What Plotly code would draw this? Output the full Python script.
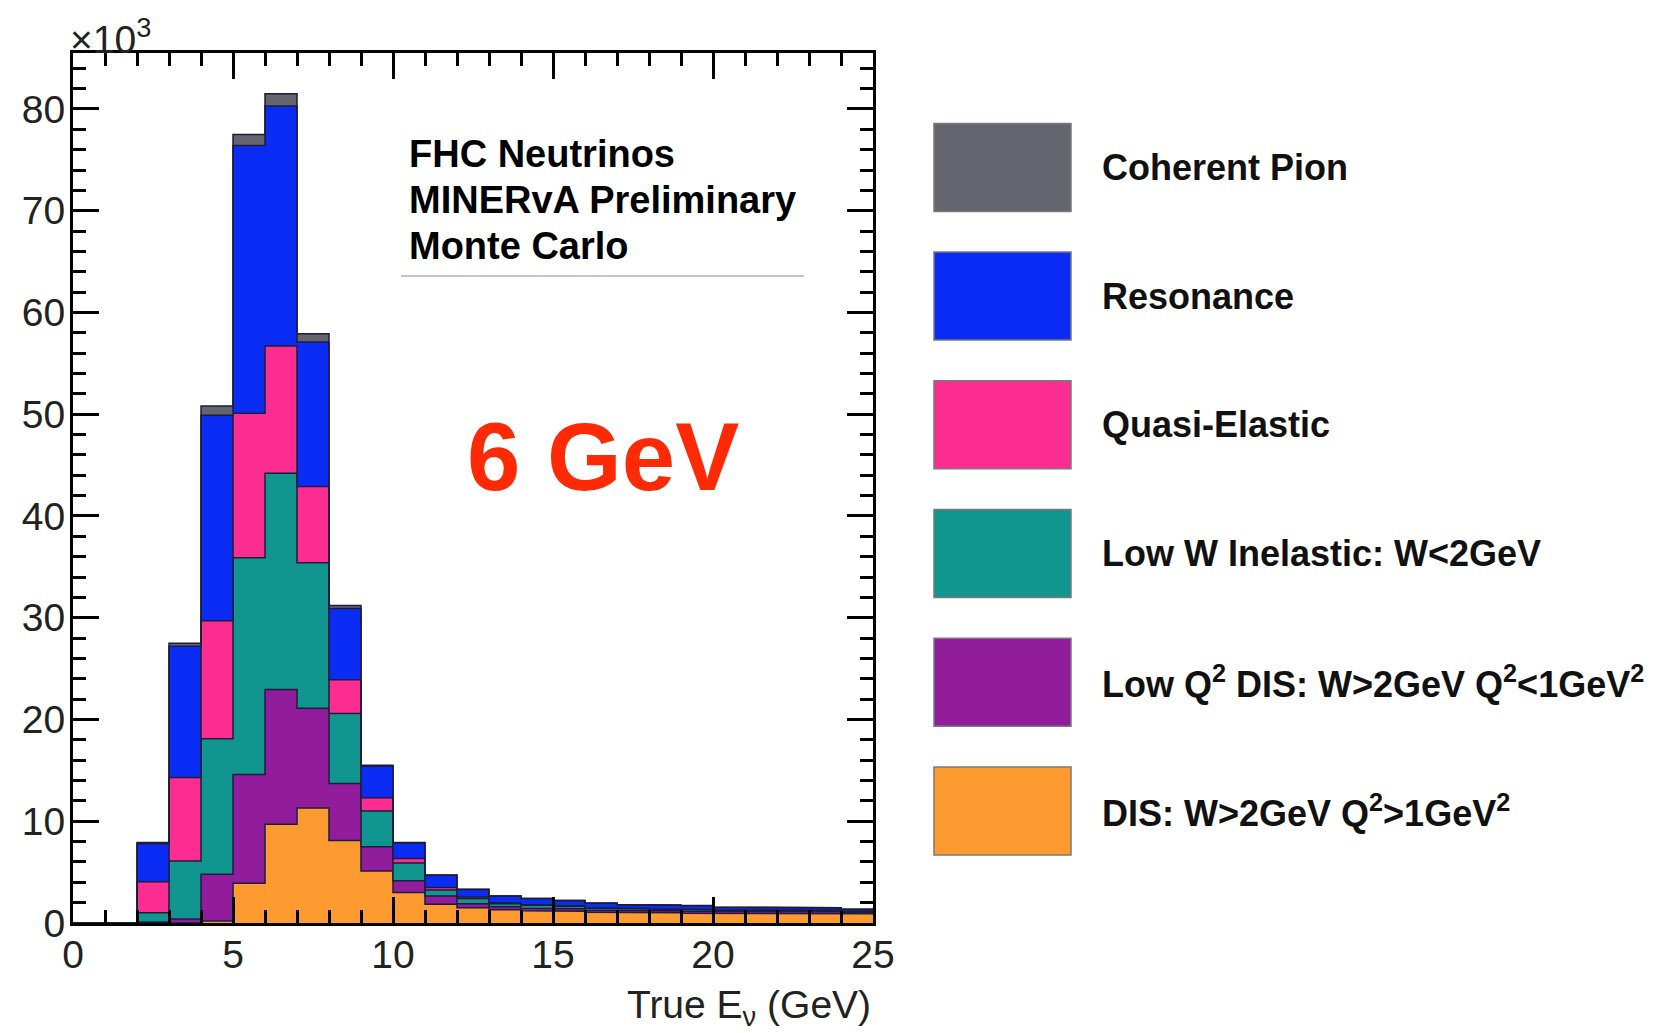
import numpy as np
import plotly.graph_objects as go

# True neutrino energy binning (GeV), 1 GeV bins
bin_edges = list(range(0, 26))

# Event counts per bin, in units of 10^3, for each interaction channel
dis_high_q2 = [0, 0, 0, 0, 0.2, 3.9, 9.7, 11.3, 8.1, 5.1, 3.0, 1.85, 1.5, 1.3, 1.2,
               1.15, 1.05, 1.0, 1.0, 0.95, 0.95, 0.95, 0.95, 0.95, 0.9]
dis_low_q2 = [0, 0, 0.1, 0.4, 4.6, 10.7, 13.25, 9.8, 5.6, 2.4, 1.15, 0.8, 0.4, 0.3, 0.25,
              0.25, 0.2, 0.2, 0.2, 0.2, 0.18, 0.18, 0.18, 0.17, 0.15]
low_w_inelastic = [0, 0, 0.9, 5.7, 13.3, 21.3, 21.25, 14.3, 6.9, 3.5, 1.75, 0.6, 0.5, 0.3, 0.3,
                   0.25, 0.2, 0.2, 0.15, 0.15, 0.12, 0.12, 0.12, 0.12, 0.1]
quasi_elastic = [0, 0, 3.05, 8.2, 11.6, 14.2, 12.5, 7.5, 3.3, 1.3, 0.45, 0.25, 0.15, 0.1, 0.05,
                 0.05, 0.05, 0.03, 0.03, 0.03, 0.02, 0.02, 0.02, 0.02, 0.02]
resonance = [0, 0, 3.75, 12.9, 20.2, 26.3, 23.6, 14.2, 7.0, 3.1, 1.5, 1.2, 0.75, 0.65, 0.6,
             0.5, 0.45, 0.37, 0.37, 0.37, 0.28, 0.28, 0.25, 0.24, 0.18]
coherent_pion = [0, 0, 0.1, 0.3, 0.9, 1.1, 1.2, 0.8, 0.3, 0.1, 0.05, 0.02, 0.02, 0.01, 0.01,
                 0.01, 0.01, 0.01, 0.01, 0.01, 0.01, 0.01, 0.01, 0.01, 0.01]

# Stack order: bottom to top
components = [
    ("DIS: W&gt;2GeV Q<sup>2</sup>&gt;1GeV<sup>2</sup>", dis_high_q2, "#fd9b30"),
    ("Low Q<sup>2</sup> DIS: W&gt;2GeV Q<sup>2</sup>&lt;1GeV<sup>2</sup>", dis_low_q2, "#911c9c"),
    ("Low W Inelastic: W&lt;2GeV", low_w_inelastic, "#11968f"),
    ("Quasi-Elastic", quasi_elastic, "#fb2d90"),
    ("Resonance", resonance, "#0b2cf5"),
    ("Coherent Pion", coherent_pion, "#65656f"),
]

OUTLINE = "#1c1c3c"
FONT = "Liberation Sans"

fig = go.Figure()

cumulative = np.zeros(len(bin_edges) - 1)
for i, (name, vals, color) in enumerate(components):
    cumulative = cumulative + np.asarray(vals, dtype=float)
    xs, ys = [], []
    for b in range(len(cumulative)):
        xs += [bin_edges[b], bin_edges[b + 1]]
        ys += [cumulative[b], cumulative[b]]
    fig.add_trace(go.Scatter(
        x=xs, y=ys, mode="lines", name=name,
        line=dict(color=OUTLINE, width=1.5),
        fill="tozeroy" if i == 0 else "tonexty",
        fillcolor=color, hoverinfo="skip", showlegend=False,
    ))

# Plot area in pixels
L, R, T, B = 73, 873, 53, 923
W_PX, H_PX = 1654, 1033
pw, ph = R - L, B - T


def px_x(p):
    return (p - L) / pw


def px_y(p):
    return (B - p) / ph


axis_common = dict(
    showgrid=False, zeroline=False, showline=True, linecolor="black", linewidth=3,
    mirror="allticks", ticks="inside", tickcolor="black", tickwidth=3,
    tickfont=dict(family=FONT, size=39, color="#222222"),
)

fig.update_xaxes(
    range=[0, 25], tick0=0, dtick=5, ticklen=26,
    minor=dict(ticks="inside", dtick=1, ticklen=13, tickwidth=3, tickcolor="black"),
    ticklabelstandoff=-5,
    **axis_common,
)
fig.update_yaxes(
    range=[0, 85.5], tick0=0, dtick=10, ticklen=26,
    minor=dict(ticks="inside", dtick=2, ticklen=13, tickwidth=3, tickcolor="black"),
    ticklabelstandoff=-3,
    **axis_common,
)

annotations = [
    dict(text="\u00d710<sup>3</sup>", x=px_x(68), y=px_y(37), xanchor="left", yanchor="middle",
         font=dict(family=FONT, size=39, color="#222222")),
    dict(text="True E<sub>\u03bd</sub> (GeV)", x=1.0, y=px_y(1007), xanchor="right", yanchor="middle",
         font=dict(family=FONT, size=39, color="#222222")),
    dict(text="<b>FHC Neutrinos</b>", x=px_x(407), y=px_y(154), xanchor="left", yanchor="middle",
         font=dict(family=FONT, size=38, color="black")),
    dict(text="<b>MINERvA Preliminary</b>", x=px_x(407), y=px_y(200), xanchor="left", yanchor="middle",
         font=dict(family=FONT, size=38, color="black")),
    dict(text="<b>Monte Carlo</b>", x=px_x(407), y=px_y(246), xanchor="left", yanchor="middle",
         font=dict(family=FONT, size=38, color="black")),
    dict(text="<b>6 GeV</b>", x=px_x(603), y=px_y(457), xanchor="center", yanchor="middle",
         font=dict(family=FONT, size=96, color="#fe2a05")),
]

shapes = [
    # underline of the header block
    dict(type="line", xref="paper", yref="paper", x0=px_x(401), x1=px_x(804),
         y0=px_y(276), y1=px_y(276), line=dict(color="#b0b0b0", width=1.5)),
]

# Legend drawn beside the frame, top entry = top of the stack
box_x0, box_x1 = 934, 1071
box_h, box_step, first_top = 88, 128.7, 123.4
for k, (name, vals, color) in enumerate(reversed(components)):
    top = first_top + k * box_step
    bot = top + box_h
    shapes.append(dict(type="rect", xref="paper", yref="paper",
                       x0=px_x(box_x0), x1=px_x(box_x1), y0=px_y(bot), y1=px_y(top),
                       fillcolor=color, line=dict(color="#7a7a7a", width=1.5)))
    annotations.append(dict(text="<b>" + name + "</b>", x=px_x(1100), y=px_y((top + bot) / 2),
                            xanchor="left", yanchor="middle",
                            font=dict(family=FONT, size=36, color="#111111")))

for a in annotations:
    a.update(xref="paper", yref="paper", showarrow=False)

fig.update_layout(
    width=W_PX, height=H_PX,
    margin=dict(l=L, r=W_PX - R, t=T, b=H_PX - B, autoexpand=False),
    paper_bgcolor="white", plot_bgcolor="white",
    showlegend=False,
    annotations=annotations, shapes=shapes,
)

fig.write_html("out.html")
